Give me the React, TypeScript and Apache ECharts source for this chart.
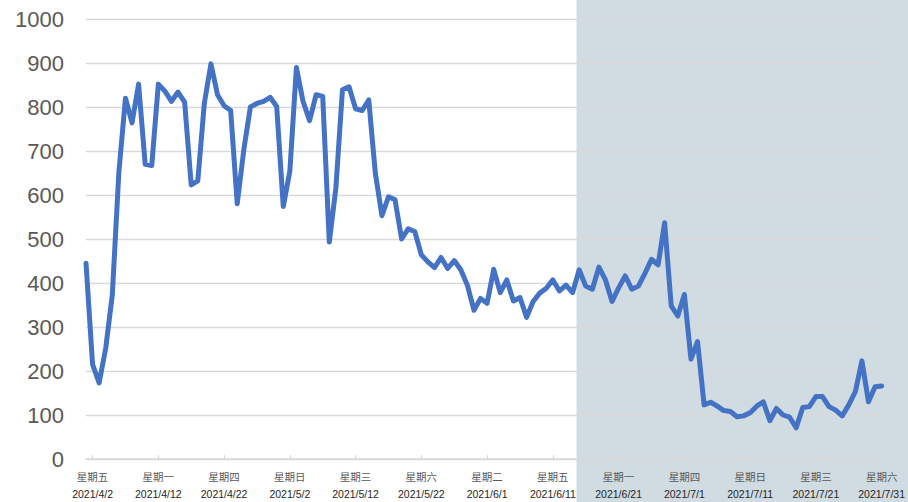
import React, { useEffect, useRef } from "react";
import * as echarts from "echarts";

// Daily values, 2021/4/1 through 2021/7/31
const startDate = [2021, 4, 1];
const values = [
  445, 215, 173, 252, 373, 652, 820, 764, 852, 670,
  667, 852, 836, 813, 834, 811, 623, 632, 809, 898,
  828, 803, 792, 580, 703, 800, 808, 813, 822, 801,
  574, 654, 890, 813, 769, 828, 824, 493, 616, 839,
  846, 796, 792, 816, 650, 553, 596, 589, 500, 523,
  517, 464, 448, 435, 458, 433, 451, 430, 395, 338,
  365, 354, 431, 378, 407, 359, 367, 322, 358, 377,
  388, 407, 382, 395, 378, 430, 393, 386, 436, 407,
  358, 389, 416, 386, 393, 422, 454, 441, 537, 348,
  325, 374, 227, 267, 123, 129, 120, 110, 108, 96,
  98, 105, 120, 130, 87, 115, 100, 95, 71, 117,
  119, 142, 142, 119, 111, 98, 123, 153, 223, 130,
  164, 166,
];
const weekdayNames = ["星期日", "星期一", "星期二", "星期三", "星期四", "星期五", "星期六"];
const yTicks = [0, 100, 200, 300, 400, 500, 600, 700, 800, 900, 1000];

// Shaded period begins between these two days
const shadeFrom = "2021/6/14";
const shadeTo = "2021/6/15";

const days: Date[] = values.map(
  (_, i) => new Date(startDate[0], startDate[1] - 1, startDate[2] + i)
);
const categories = days.map(
  (d) => `${d.getFullYear()}/${d.getMonth() + 1}/${d.getDate()}`
);
const weekdayOf: Record<string, string> = {};
days.forEach((d, i) => {
  weekdayOf[categories[i]] = weekdayNames[d.getDay()];
});

const FONT = "'Liberation Sans', Arial, 'Noto Sans CJK SC', sans-serif";

export default function App() {
  const ref = useRef<HTMLDivElement>(null);

  useEffect(() => {
    if (!ref.current) return;
    const chart = echarts.init(ref.current, undefined, { renderer: "svg" });
    chart.setOption({
      animation: false,
      backgroundColor: "#ffffff",
      grid: { left: 86, right: 24, top: 19, bottom: 43, containLabel: false },
      xAxis: {
        type: "category",
        data: categories,
        boundaryGap: false,
        axisLine: { show: true, lineStyle: { color: "#D9D9D9", width: 1.5 } },
        axisTick: {
          show: true,
          inside: true,
          length: 4,
          interval: (index: number) => index % 10 === 1,
          lineStyle: { color: "#D9D9D9", width: 1 },
        },
        axisLabel: {
          interval: (index: number) => index % 10 === 1,
          margin: 9,
          fontFamily: FONT,
          hideOverlap: false,
          formatter: (v: string) => `{w|${weekdayOf[v]}}\n{d|${v}}`,
          rich: {
            w: { fontSize: 10.5, color: "#595959", lineHeight: 17, fontFamily: FONT },
            d: { fontSize: 10.5, color: "#262626", lineHeight: 17, fontFamily: FONT },
          },
        },
        splitLine: { show: false },
      },
      yAxis: {
        type: "value",
        min: yTicks[0],
        max: yTicks[yTicks.length - 1],
        interval: yTicks[1] - yTicks[0],
        axisLine: { show: false },
        axisTick: { show: false },
        axisLabel: {
          fontSize: 22,
          color: "#595959",
          margin: 22,
          fontFamily: FONT,
          formatter: (v: number) => String(v),
        },
        splitLine: { lineStyle: { color: "#D9D9D9", width: 1.3 } },
      },
      series: [
        {
          type: "line",
          data: values,
          symbol: "none",
          smooth: false,
          lineStyle: { color: "#4472C4", width: 5, join: "round", cap: "round" },
          z: 5,
        },
      ],
    });

    const a = chart.convertToPixel({ xAxisIndex: 0 }, shadeFrom) as number;
    const b = chart.convertToPixel({ xAxisIndex: 0 }, shadeTo) as number;
    const x0 = a + (b - a) * 0.6;
    chart.setOption({
      graphic: [
        {
          type: "rect",
          z: -10,
          silent: true,
          shape: { x: x0, y: 0, width: chart.getWidth() - x0, height: chart.getHeight() },
          style: { fill: "#D0DBE2" },
        },
      ],
    });

    return () => chart.dispose();
  }, []);

  return (
    <div
      ref={ref}
      style={{ position: "fixed", left: 0, top: 0, width: 908, height: 502 }}
    />
  );
}
